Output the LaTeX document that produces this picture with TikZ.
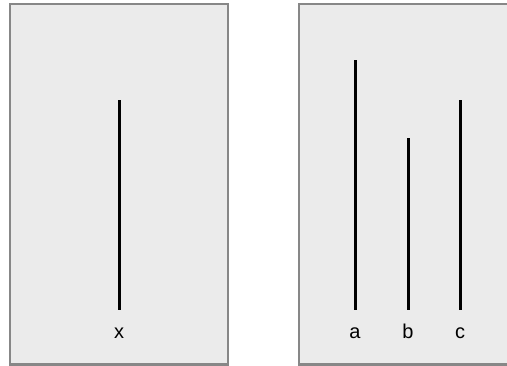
\documentclass[tikz,border=0pt]{standalone}
\usepackage{fontspec}
\setmainfont{Liberation Sans}
\begin{document}
\begin{tikzpicture}[x=1pt,y=1pt,
  panel/.style={draw=black!47,line width=2.5pt,fill=black!8},
  stick/.style={line width=3pt,black},
  lbl/.style={font=\fontsize{20}{24}\selectfont,inner sep=0pt,anchor=base}]
\useasboundingbox (0,0) rectangle (507,366);
\clip (0,0) rectangle (507,366);
\fill[white] (0,0) rectangle (507,366);
\draw[panel] (10,1.5) rectangle (228,362);
\draw[panel] (299,1.5) rectangle (512,362);
% left panel
\draw[stick] (119,56) -- (119,266);
\node[lbl] (x) at (119,27) {x};
% right panel
\draw[stick] (355,56) -- (355,306);
\draw[stick] (408,56) -- (408,228);
\draw[stick] (460,56) -- (460,266);
\node[lbl] (a) at (355,27) {a};
\node[lbl] (b) at (408,27) {b};
\node[lbl] (c) at (460,27) {c};
\end{tikzpicture}
\end{document}
